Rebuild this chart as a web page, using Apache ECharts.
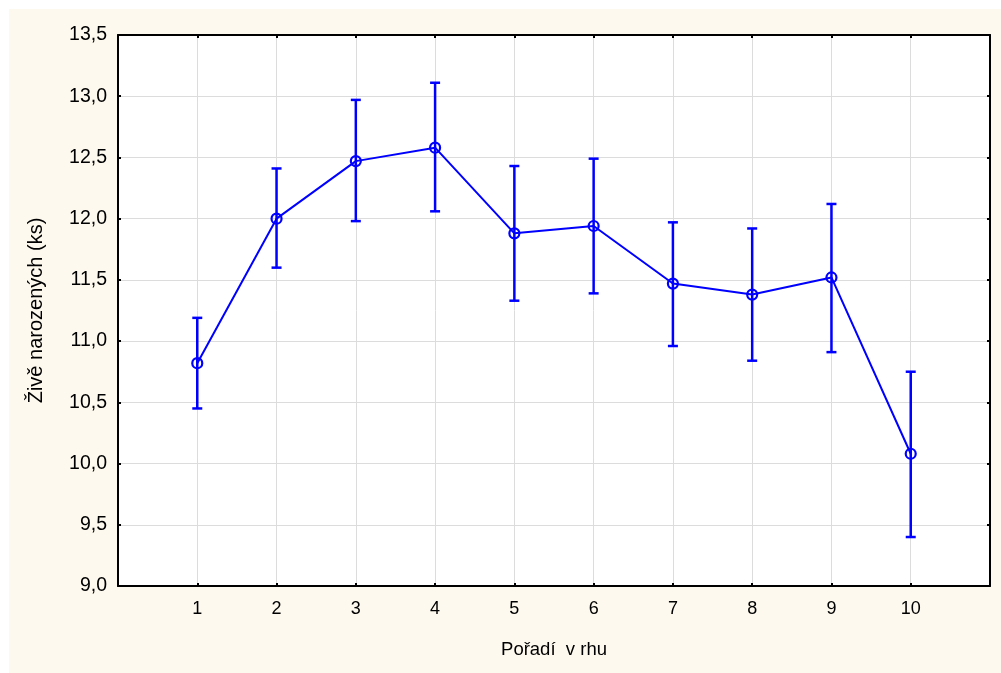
<!DOCTYPE html>
<html><head><meta charset="utf-8">
<script src="https://cdn.jsdelivr.net/npm/echarts@6/dist/echarts.min.js"></script>
<style>
html,body{margin:0;padding:0;background:#ffffff;}
#bg{position:absolute;left:9px;top:9px;width:992px;height:664px;background:#fdf9ee;}
#c{position:absolute;left:0;top:0;width:1001px;height:673px;}
</style></head>
<body><div id="bg"></div><div id="c"></div>
<script>
const categories = [1,2,3,4,5,6,7,8,9,10];
const means = [10.82, 12.00, 12.47, 12.58, 11.88, 11.94, 11.47, 11.38, 11.52, 10.08];
const upper = [11.19, 12.41, 12.97, 13.11, 12.43, 12.49, 11.97, 11.92, 12.12, 10.75];
const lower = [10.45, 11.60, 11.98, 12.06, 11.33, 11.39, 10.96, 10.84, 10.91, 9.40];
const xTitle = 'Pořadí  v rhu';
const yTitle = 'Živě narozených (ks)';

const FONT = 'Liberation Sans, Arial, sans-serif';
const BLUE = '#0000ff';
const chart = echarts.init(document.getElementById('c'), null, {renderer:'canvas'});
const lineData = categories.map((c,i)=>[c, means[i]]);
const errData = categories.map((c,i)=>[c, lower[i], upper[i]]);
const fmtY = v => v.toFixed(1).replace('.', ',');
const axisCommon = {
  axisLine:{show:true, onZero:false, lineStyle:{color:'#000', width:2}},
  axisTick:{show:true, inside:true, length:3, lineStyle:{color:'#000', width:2}},
};
chart.setOption({
  animation:false,
  backgroundColor:'transparent',
  grid:{left:118, top:35, width:872, height:551, show:true, backgroundColor:'#ffffff', borderWidth:0},
  xAxis:[{
    type:'value', min:0, max:11, interval:1, position:'bottom',
    ...axisCommon,
    splitLine:{show:true, lineStyle:{color:'#dcdcdc', width:1}},
    axisLabel:{color:'#000', fontFamily:FONT, fontSize:18, margin:14,
      formatter:v => (v>=1 && v<=10) ? String(v) : ''},
    name:xTitle, nameLocation:'middle', nameGap:54,
    nameTextStyle:{color:'#000', fontFamily:FONT, fontSize:18.5}
  },{
    type:'value', min:0, max:11, interval:1, position:'top',
    ...axisCommon, axisLabel:{show:false}, splitLine:{show:false}
  }],
  yAxis:[{
    type:'value', min:9, max:13.5, interval:0.5, position:'left',
    ...axisCommon,
    splitLine:{show:true, lineStyle:{color:'#dcdcdc', width:1}},
    axisLabel:{color:'#000', fontFamily:FONT, fontSize:19.5, margin:11, formatter:fmtY},
    name:yTitle, nameLocation:'middle', nameGap:72, nameRotate:90,
    nameTextStyle:{color:'#000', fontFamily:FONT, fontSize:20}
  },{
    type:'value', min:9, max:13.5, interval:0.5, position:'right',
    ...axisCommon, axisLabel:{show:false}, splitLine:{show:false}
  }],
  series:[{
    type:'custom', xAxisIndex:0, yAxisIndex:0, data:errData, z:5,
    renderItem:(params, api)=>{
      const x = api.value(0);
      const lo = api.coord([x, api.value(1)]);
      const hi = api.coord([x, api.value(2)]);
      const w = 5;
      const st = {stroke:BLUE, lineWidth:2.5, fill:null};
      return {type:'group', children:[
        {type:'line', shape:{x1:lo[0], y1:lo[1], x2:hi[0], y2:hi[1]}, style:st},
        {type:'line', shape:{x1:lo[0]-w, y1:lo[1], x2:lo[0]+w, y2:lo[1]}, style:st},
        {type:'line', shape:{x1:hi[0]-w, y1:hi[1], x2:hi[0]+w, y2:hi[1]}, style:st}
      ]};
    }
  },{
    type:'line', xAxisIndex:0, yAxisIndex:0, data:lineData, z:4,
    symbol:'circle', symbolSize:10, showSymbol:true,
    lineStyle:{color:BLUE, width:2},
    itemStyle:{color:'rgba(0,0,0,0)', borderColor:BLUE, borderWidth:2.2}
  }]
});
</script></body></html>
